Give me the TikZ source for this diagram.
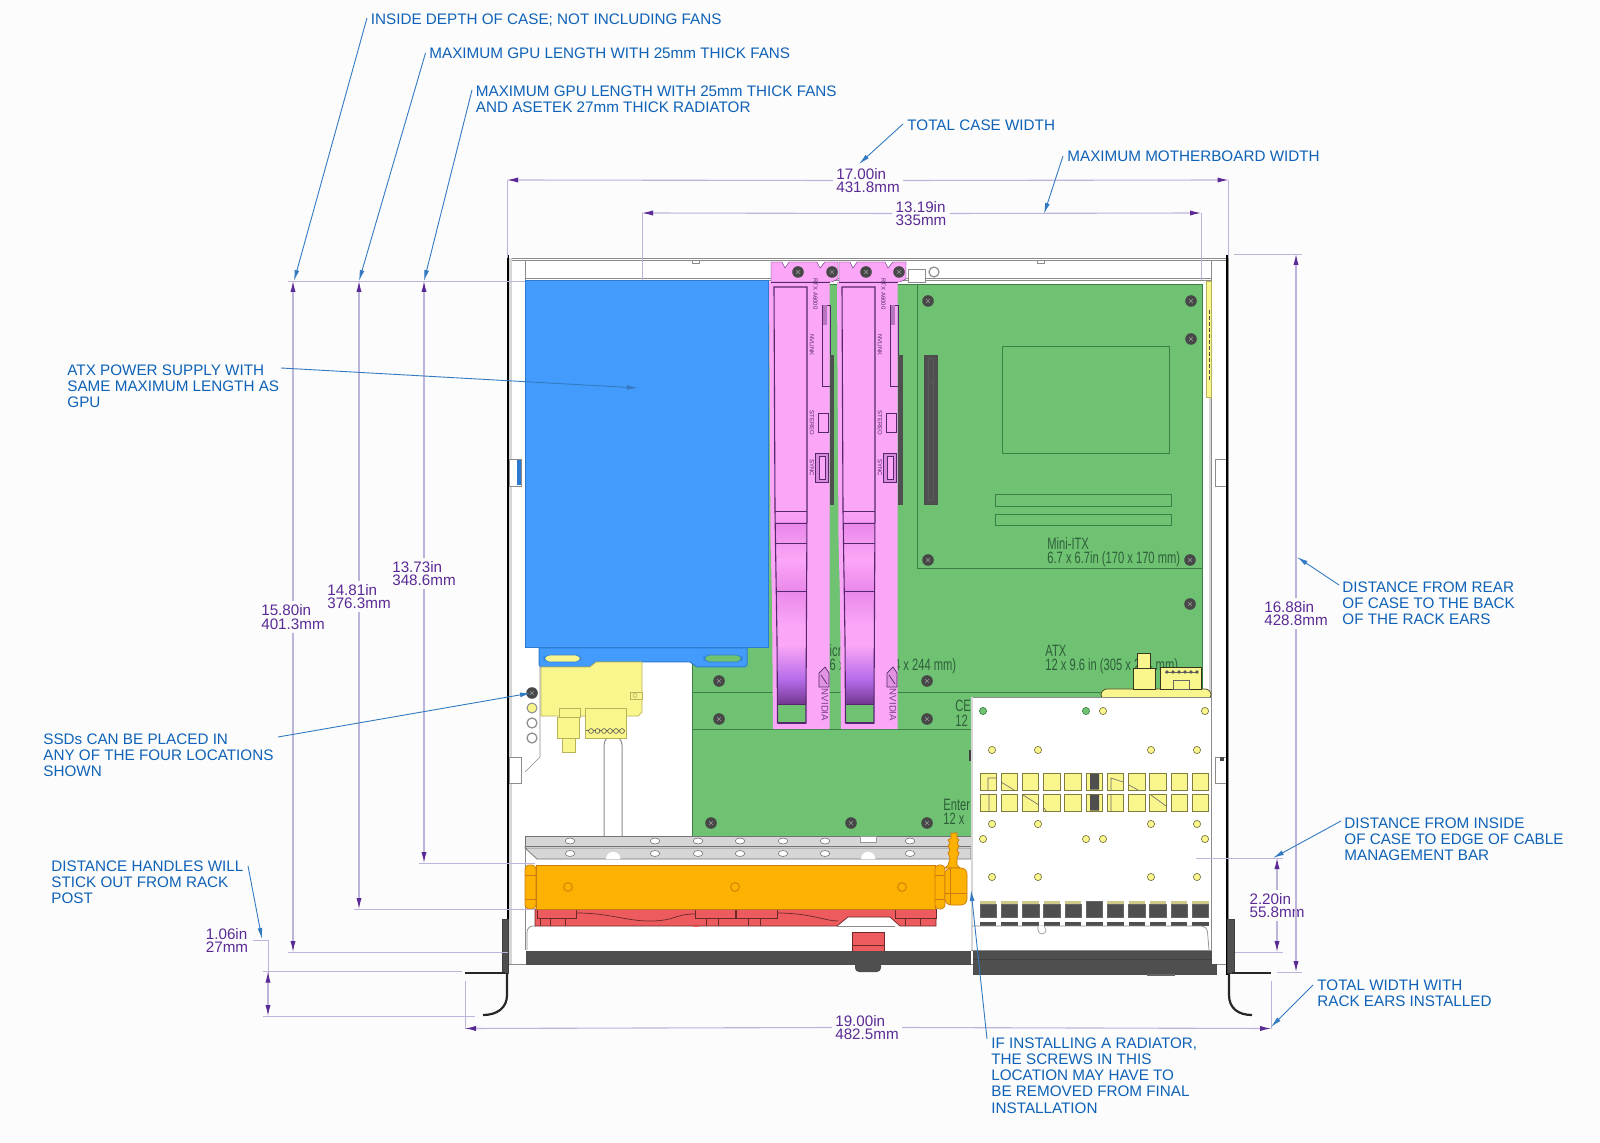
\documentclass[tikz,border=0pt]{standalone}
\usepackage{fontspec}
\setmainfont{Liberation Sans}
\newfontfamily\isofont[FakeStretch=0.68]{Liberation Sans}
\usetikzlibrary{arrows.meta,shadings}
\definecolor{bgc}{HTML}{FBFCFB}
\definecolor{noteblue}{HTML}{0F62B8}
\definecolor{dimpurple}{HTML}{5B2A96}
\definecolor{dimline}{HTML}{BDB4DC}
\definecolor{psu}{HTML}{439CFC}
\definecolor{psud}{HTML}{2C7BD0}
\definecolor{mobo}{HTML}{6EC272}
\definecolor{moboline}{HTML}{3C7F48}
\definecolor{motext}{HTML}{2F5F3A}
\definecolor{gpu}{HTML}{FBA6F7}
\definecolor{gpud}{HTML}{55286E}
\definecolor{gpum}{HTML}{EA88EA}
\definecolor{fanv}{HTML}{B46AE8}
\definecolor{fanp}{HTML}{74388F}
\definecolor{ssd}{HTML}{FAF68E}
\definecolor{ssdl}{HTML}{B9B25A}
\definecolor{rad}{HTML}{FDB100}
\definecolor{radd}{HTML}{C97A10}
\definecolor{fanred}{HTML}{EE5B5E}
\definecolor{darkm}{HTML}{4F4F4F}
\definecolor{railg}{HTML}{D6D6D6}
\definecolor{wallg}{HTML}{8C8C8C}
\tikzset{
  x=0.5pt,y=-0.5pt,
  note/.style={font=\fontsize{7.62}{8.15}\selectfont,text=noteblue,align=left,anchor=north west,inner sep=0pt,yshift=-1pt},
  dimtext/.style={font=\fontsize{7.6}{6.7}\selectfont,text=dimpurple,align=left,inner sep=1.5pt},
  mbtext/.style={font=\isofont\fontsize{8.2}{7.1}\selectfont,text=motext,align=left,anchor=north west,inner sep=0pt},
  gputext/.style={font=\fontsize{3}{3}\selectfont,text=gpud,inner sep=0pt,rotate=-90},
  nvtext/.style={font=\fontsize{4.8}{4.8}\selectfont,text=gpud!80!gpu,inner sep=0pt,rotate=-90},
  leader/.style={draw=noteblue!85!white,line width=0.45pt,-{Latex[length=5.5pt,width=2.4pt]}},
  extline/.style={draw=dimline,line width=0.45pt},
  dimarrow/.style={draw=dimline,line width=0.55pt,-{Latex[length=5.5pt,width=2.6pt,color=dimpurple]}},
  wall/.style={draw=wallg,line width=0.35pt,fill=white},
  mbline/.style={draw=moboline,line width=0.4pt},
  hole/.style={circle,draw=ssdl!60!black,line width=0.3pt,fill=ssd,minimum size=3.6pt,inner sep=0pt},
  greenhole/.style={circle,draw=moboline,line width=0.3pt,fill=mobo,minimum size=3.6pt,inner sep=0pt},
  slotsq/.style={draw=ssdl!70!black,line width=0.4pt,fill=ssd},
  darksq/.style={draw=black!60,line width=0.3pt,fill=darkm},
}
\newcommand{\screwat}[2]{\fill[black!72] (#1,#2) circle (2.9pt); \draw[black!40,line width=0.25pt] (#1-2,#2-2)--(#1+2,#2+2) (#1-2,#2+2)--(#1+2,#2-2);}
\newcommand{\railhole}[2]{\draw[black!55,line width=0.3pt,fill=white] (#1,#2) ellipse (2.4pt and 1.5pt);}
\newcommand{\gpucard}[2]{%
 \begin{scope}[shift={(#1,0)}]
  \fill[gpu,draw=gpud,line width=0.2pt] (771,262)--(782,262)--(785,268)--(789,262)--(817,262)--(820,268)--(825,262)--(838,262)--(838,279)--(832,282)--(771,282)--cycle;
  \fill[gpu] (769,282)--(829.5,282)--(829.5,729)--(773,729)--(772,600)--(770.5,540)--cycle;
  \begin{scope}
   \clip (775,511)--(807,511)--(806,704)--(778,704)--cycle;
   \shade[top color=gpu!85!gpum,bottom color=gpu!70!gpum] (770,511) rectangle (810,523);
   \shade[top color=gpum,bottom color=gpu] (770,523) rectangle (810,560);
   \shade[top color=gpu,bottom color=gpum] (770,560) rectangle (810,591);
   \shade[top color=gpum,bottom color=gpu] (770,591) rectangle (810,625);
   \shade[top color=gpu,bottom color=gpu] (770,625) rectangle (810,645);
   \shade[top color=gpu,bottom color=fanv] (770,645) rectangle (810,680);
   \shade[top color=fanv,bottom color=fanp] (770,680) rectangle (810,704);
  \end{scope}
  \fill[mobo] (778,704) rectangle (806,723);
  \draw[gpud,line width=0.55pt] (774,287)--(807,287)--(807,511)--(806,704)--(806,723)--(777.5,723)--(777,640)--(775,511)--cycle;
  \draw[gpud,line width=0.4pt] (775,511)--(807,511) (775,523)--(807,523) (776,543)--(807,543) (776,591)--(807,591) (778,704)--(806,704);
  \draw[gpud,line width=0.8pt] (777.5,723)--(806,723);
  \draw[gpud,line width=0.35pt] (771,282)--(830,282);
  \draw[gpud,line width=0.3pt] (818,413) rectangle (828,432);
  \draw[gpud,line width=0.3pt,fill=gpu!75!fanp] (815,453) rectangle (828,482);
  \draw[gpud,line width=0.3pt,fill=gpu] (819,456) rectangle (825,479);
  \draw[gpud,line width=0.3pt] (822,305) rectangle (830,386);
  \fill[gpu!60!gpud] (823,305) rectangle (827,325);
  \node[gputext] (rtx#2) at (815.5,294) {RTX A6000};
  \node[gputext] (nvl#2) at (812,345) {NVLINK};
  \node[gputext] (ste#2) at (812,423) {STEREO};
  \node[gputext] (syn#2) at (812,468) {SYNC};
  \draw[gpud,line width=0.35pt,fill=gpu!85!gpud] (819,687)--(819,673)--(825,667)--(829,673)--(829,687)--cycle (821,675)--(827,684);
  \node[nvtext] (nvi#2) at (825,705) {NVIDIA};
 \end{scope}}
\begin{document}
\begin{tikzpicture}
\useasboundingbox (0,0) rectangle (1600,1143);
\fill[bgc] (0,0) rectangle (1600,1143);
% ---- case walls
\path[wall] (508,258) rectangle (1228,964);
\draw[wallg,line width=0.35pt] (508,260)--(1228,260);
\fill[railg] (508,258) rectangle (512,964);
\draw[wallg,line width=0.4pt] (525,260)--(525,950);
\draw[wallg,line width=0.4pt] (1211,260)--(1211,950);
\fill[railg] (1209,280) rectangle (1211,950);
\draw[wallg,line width=0.5pt] (525,279)--(1211,279) (525,281)--(1211,281);
\fill[white,draw=wallg,line width=0.25pt] (692,260) rectangle (699,263) (1037,260) rectangle (1044,263);
% ---- motherboard
\fill[mobo] (692,284) rectangle (1202,836);
\draw[mbline] (692,284)--(1202,284)--(1202,836);
\draw[mbline] (692,284)--(692,836);
\draw[mbline] (917,284)--(917,568)--(1202,568);
\draw[mbline] (692,692)--(1202,692) (692,729)--(1202,729);
\draw[mbline,line width=0.5pt] (1002,347) rectangle (1169,454);
\draw[mbline,line width=0.5pt] (995,495) rectangle (1171,507) (995,515) rectangle (1171,526);
\fill[darkm,draw=black!70,line width=0.3pt] (924,355) rectangle (937,504);
\draw[black!65,line width=0.25pt] (928,358) rectangle (933,380) (928,382) rectangle (933,500);
\node[mbtext] (itxtext) at (1047,537.5) {Mini-ITX\\6.7 x 6.7in (170 x 170 mm)};
\node[mbtext] (atxtext) at (1045,644.5) {ATX\\12 x 9.6 in (305 x 244 mm)};
\node[mbtext] (microtext) at (820,644.5) {MicroATX\\9.6 x 9.6 in (244 x 244 mm)};
\node[mbtext] (cebtext) at (955,700) {CEB\\12};
\node[mbtext] (eatxtext) at (943,799) {Enter\\12 x};
% screws
\foreach \p/\q in {928/301,1191/301,1191/339,928/560,1190/560,1190/604,719/681,719/719,927/681,927/719,711/823,851/823,927/823}{\screwat{\p}{\q}}
\fill[black!75] (969,750) rectangle (973,761);
% right yellow strip
\fill[ssd,draw=ssdl,line width=0.3pt] (1206,281) rectangle (1211,397);
\draw[black!70,line width=0.4pt,dash pattern=on 2pt off 1pt] (1209,310)--(1209,380);
% ---- small parts on top rail
\draw[wallg,line width=0.3pt,fill=white] (908,269) rectangle (925,282);
\draw[wallg,line width=0.6pt,fill=white] (934,272) circle (2.5pt);
% ---- white left bay
\fill[white] (525.3,648) rectangle (692,836);
\draw[wallg,line width=0.3pt] (540,648)--(540,757)--(525,772);
\fill[white,draw=wallg,line width=0.5pt] (604,840) -- (622,840) -- (622,745) arc (0:180:4.5pt) --cycle;
% ---- PSU
\fill[psu,draw=psud,line width=0.5pt] (525,281) rectangle (768,648);
\fill[psu,draw=psud,line width=0.5pt] (539,648)--(539,665)--(541,667)--(590,667)--(596,662)--(690,662)--(697,667)--(745,667)--(747,665)--(747,648)--cycle;
\fill[ssd,draw=psud,line width=0.3pt,rounded corners=3pt] (544,655) rectangle (581,662);
\fill[mobo,draw=psud,line width=0.3pt,rounded corners=3pt] (704,655) rectangle (742,662);
% ---- SSD
\fill[ssd,draw=ssdl,line width=0.35pt] (541,667)--(590,667)--(596,662)--(642,662)--(642,712)--(638,716)--(541,716)--cycle;
\draw[ssdl,line width=0.3pt,fill=ssd] (630,692) rectangle (642,699);
\draw[ssdl,line width=0.3pt] (635,695.5) circle (1pt);
\fill[ssd,draw=ssdl,line width=0.35pt] (559,708) rectangle (580,717) (557,717) rectangle (579,738);
\fill[ssd,draw=ssdl,line width=0.35pt] (562,738) rectangle (575,752);
\fill[ssd,draw=ssdl,line width=0.35pt] (585,708) rectangle (626,738);
\draw[black!60,line width=0.3pt] (586,730)--(625,730);
\foreach \q in {591,597.5,604,610,616,622}{\draw[black!70,line width=0.3pt,fill=ssd] (\q,731) circle (1.2pt);}
\screwat{532}{693}
\fill[ssd,draw=wallg,line width=0.5pt] (532,708) circle (2.5pt);
\fill[white,draw=wallg,line width=0.6pt] (532,723) circle (2.5pt) (532,738) circle (2.5pt);
% clips
\draw[wallg,line width=0.3pt,fill=white] (509,757) rectangle (521,783) (509,459) rectangle (521,486) (1215,459) rectangle (1227,486) (1215,757) rectangle (1227,783);
\fill[psud] (517,460) rectangle (520.5,485);
\fill[black!70] (1220,757) rectangle (1224,761);
% ---- rail
\fill[railg,draw=black!55,line width=0.35pt] (525,836) rectangle (971,846);
\fill[railg,draw=black!55,line width=0.35pt] (525,848)--(971,848)--(971,859)--(537,859)--cycle;
\foreach \p in {570,655,698,740,783,825,910}{\railhole{\p}{841}\railhole{\p}{853.5}}
\fill[white,draw=black!40,line width=0.25pt] (860,836) rectangle (876,842);
\fill[white] (606,859) arc (180:0:3.6pt) -- cycle (861,859) arc (180:0:3.6pt) -- cycle;
% ---- GPUs
\gpucard{0}{a}
\gpucard{68}{b}
\fill[darkm] (830,355) rectangle (834,505);
\fill[darkm] (898,355) rectangle (902.5,505);
\foreach \p in {798,832,866,899}{\screwat{\p}{272}}
% ---- radiator
\fill[fanred,draw=black!55!fanred,line width=0.35pt] (535,909)--(936,909)--(936,926)--(900,926)--(890,917)--(848,917)--(837,926)--(535,926)--cycle;
\draw[black!55!fanred,line width=0.35pt,fill=fanred] (537,909) rectangle (576,918) (695,909) rectangle (735,918) (736,909) rectangle (777,918) (895,909) rectangle (936,918);
\draw[black!55!fanred,line width=0.3pt] (540,918)--(540,926) (550,918)--(550,926) (565,918)--(565,926) (706,918)--(706,926) (718,918)--(718,926) (748,918)--(748,926) (760,918)--(760,926) (905,918)--(905,926) (920,918)--(920,926);
\draw[black!55!fanred,line width=0.35pt] (576,913) .. controls (610,913) and (625,921) .. (650,921) .. controls (675,921) and (675,914) .. (695,914);
\draw[black!55!fanred,line width=0.35pt] (777,913) .. controls (810,913) and (825,921) .. (838,921);
\fill[fanred] (693,926) .. controls (694,931) and (695,933) .. (696,933) .. controls (697,933) and (698,931) .. (699,926) -- cycle;
\fill[rad,draw=radd,line width=0.35pt,rounded corners=2pt] (525,865) rectangle (536,909);
\draw[radd,line width=0.3pt] (525,875)--(536,875) (525,899)--(536,899);
\fill[rad,draw=radd,line width=0.5pt] (536,865) rectangle (935,909);
\fill[rad,draw=radd,line width=0.35pt,rounded corners=2pt] (935,865) rectangle (945,909);
\draw[radd,line width=0.3pt] (935,875)--(945,875) (935,899)--(945,899);
\fill[rad,draw=radd,line width=0.35pt] (951,833)--(957,833)--(957,838)--(959,840)--(957,843)--(959,846)--(957,850)--(959,853)--(957,858)--(957,865)--(960,868)--(945,868)--(948,865)--(950,858)--(948,853)--(950,850)--(948,846)--(950,843)--(948,840)--(951,838)--cycle;
\fill[rad,draw=radd,line width=0.35pt,rounded corners=3pt] (945,868) rectangle (967,905);
\draw[radd,line width=0.3pt] (950,868)--(950,905) (945,893)--(967,893);
\foreach \p in {568,735,902}{\draw[radd,line width=0.4pt] (\p,887) circle (2.2pt);}
% ---- yellow parts behind cable bar
\fill[ssd,draw=black!60!ssdl,line width=0.35pt,rounded corners=3pt] (1101,700)--(1101,689)--(1211,689)--(1211,700)--cycle;
\fill[ssd,draw=black!70!ssdl,line width=0.35pt] (1137,653) rectangle (1150,668);
\fill[ssd,draw=black!70!ssdl,line width=0.35pt] (1133,668) rectangle (1155,689);
\fill[ssd,draw=black!70!ssdl,line width=0.35pt] (1160,667) rectangle (1201,689);
\draw[black!60,line width=0.3pt] (1165,672)--(1197,672) (1173,680) rectangle (1189,689);
\foreach \q in {1167,1173,1179,1185,1191,1197}{\fill[black!65] (\q,672) circle (0.9pt);}
% ---- cable management bar
\fill[white,draw=wallg,line width=0.35pt] (971,697) rectangle (1211,950);
\fill[railg] (971,697) rectangle (972.5,950);
\foreach \p in {983,1086}{\node[greenhole] (gh\p) at (\p,711) {};}
\foreach \p in {1103,1205}{\node[hole] (yh\p) at (\p,711) {};}
\foreach \p in {992,1038,1151,1197}{\node[hole] (ya\p) at (\p,750) {}; \node[hole] (yb\p) at (\p,824) {}; \node[hole] (yc\p) at (\p,877) {};}
\foreach \p in {983,1086,1103,1205}{\node[hole] (yd\p) at (\p,839) {};}
\foreach \i in {0,...,10}{
  \pgfmathsetmacro{\xa}{980+21.22*\i}
  \pgfmathsetmacro{\xb}{\xa+16.4}
  \draw[slotsq] (\xa,773) rectangle (\xb,790);
  \draw[slotsq] (\xa,794) rectangle (\xb,811);
  \ifnum\i=5\relax
    \draw[darksq] (\xa,901) rectangle (\xb,917);
  \else
    \fill[ssdl!70!white] (\xa,901) rectangle (\xb,904);
    \draw[darksq] (\xa,904) rectangle (\xb,917);
  \fi
  \fill[darkm] (\xa,922) rectangle (\xb,926);
}
\fill[darkm] (1090,773.5) rectangle (1099,789.5) (1090,794.5) rectangle (1099,810.5);
\draw[black!60,line width=0.3pt] (988,790)--(988,778)--(996,778) (989,794)--(989,811) (1001,782)--(1014,790) (1023,795)--(1039,805) (1044,808)--(1046,811) (1111,790)--(1111,778)--(1123,782) (1111,794)--(1111,811) (1129,785)--(1138,790) (1151,795)--(1166,806);
\fill[white] (972.5,926.3) rectangle (1210.5,950);
\draw[wallg,line width=0.35pt,rounded corners=3pt] (972,926)--(1207,926)--(1209,950);
\draw[wallg,line width=0.3pt,fill=white] (1038,926)--(1038,930) arc (180:360:2pt) -- (1044,926);
% left panel below
\fill[white] (525.5,926.5) rectangle (971,950.5);
\draw[wallg,line width=0.35pt,rounded corners=3pt] (527,950)--(527,926)--(535,926);
\draw[wallg,line width=0.35pt] (837,926)--(895,926);
\fill[fanred,draw=black!55!fanred,line width=0.3pt] (852,932) rectangle (884,951);
\draw[black!55!fanred,line width=0.3pt] (852,945)--(884,945);
% bottom dark bars
\fill[darkm,draw=black!70,line width=0.4pt] (526,951) rectangle (970,964);
\fill[darkm,rounded corners=2pt] (855,951) rectangle (881,972);
\fill[darkm,draw=black!70,line width=0.4pt] (973,951)--(1211,951)--(1211,964)--(1216,964)--(1216,974)--(973,974)--cycle;
\draw[black!75,line width=0.3pt] (973,959)--(1211,959);
\fill[black!60] (1147,974) rectangle (1175,976);
% black case edges
\draw[black,line width=1pt] (508,255)--(508,964);
\draw[black,line width=1pt] (1227,255)--(1227,975);
% rack ears
\fill[darkm,draw=black!75,line width=0.3pt] (502,919) rectangle (508,973);
\fill[darkm,draw=black!75,line width=0.3pt] (1227.5,919) rectangle (1234,973);
\draw[black!85,line width=1.1pt] (465,973)--(505,973);
\draw[black!85,line width=1.1pt] (1232,973)--(1271,973);
\draw[black!85,line width=1.1pt] (507,973)--(507,995) .. controls (507,1008) and (497,1015) .. (483,1015);
\draw[black!85,line width=1.1pt] (1229,973)--(1229,995) .. controls (1229,1008) and (1238,1015) .. (1252,1015);
% ---- dimension extension lines
\coordinate (ela) at (507,180); \coordinate (elb) at (507,258);
\coordinate (era) at (1228.5,180); \coordinate (erb) at (1228.5,258);
\draw[extline] (ela)--(elb) (era)--(erb);
\coordinate (m1a) at (642,213); \coordinate (m1b) at (642,280);
\coordinate (m2a) at (1201,213); \coordinate (m2b) at (1201,280);
\draw[extline] (m1a)--(m1b) (m2a)--(m2b);
\coordinate (t0) at (288,281); \coordinate (t1) at (525,281);
\draw[extline] (t0)--(t1);
\coordinate (b1) at (288,952); \coordinate (b1e) at (508,952);
\coordinate (b2) at (354,909); \coordinate (b2e) at (535,909);
\coordinate (b3) at (419,863); \coordinate (b3e) at (535,863);
\draw[extline] (b1)--(b1e) (b2)--(b2e) (b3)--(b3e);
\coordinate (rt) at (1302,254); \coordinate (rte) at (1234,254);
\coordinate (rb) at (1302,972); \coordinate (rbe) at (1277,972);
\draw[extline] (rt)--(rte) (rb)--(rbe);
\coordinate (ib) at (1283,858); \coordinate (ibe) at (1196,858);
\coordinate (ic) at (1283,952); \coordinate (ice) at (1235,952);
\draw[extline] (ib)--(ibe) (ic)--(ice);
\coordinate (wl) at (465,1028.5); \coordinate (wlt) at (465,981);
\coordinate (wr) at (1271,1028.5); \coordinate (wrt) at (1271,981);
\draw[extline] (wl)--(wlt) (wr)--(wrt);
\coordinate (h1) at (263,971.5); \coordinate (h1e) at (462,971.5);
\coordinate (h2) at (263,1016); \coordinate (h2e) at (475,1016);
\draw[extline] (h1)--(h1e) (h2)--(h2e);
% dimension texts
\node[dimtext,fill=bgc] (d17) at (868,180.5) {17.00in\\431.8mm};
\node[dimtext,fill=bgc] (d13) at (921,213.5) {13.19in\\335mm};
\node[dimtext,fill=bgc] (d158) at (293,617) {15.80in\\401.3mm};
\node[dimtext,fill=bgc] (d148) at (359,596.5) {14.81in\\376.3mm};
\node[dimtext,fill=bgc] (d137) at (424,573.5) {13.73in\\348.6mm};
\node[dimtext,fill=bgc] (d168) at (1296,613.5) {16.88in\\428.8mm};
\node[dimtext,fill=bgc] (d22) at (1277,905.5) {2.20in\\55.8mm};
\node[dimtext,fill=bgc] (d19) at (867,1027.5) {19.00in\\482.5mm};
\node[dimtext] (d106) at (227,940.5) {1.06in\\27mm};
\draw[dimarrow] (d17.west)--(ela);
\draw[dimarrow] (d17.east)--(era);
\draw[dimarrow] (d13.west)--(m1a);
\draw[dimarrow] (d13.east)--(m2a);
\draw[dimarrow] (d158.north)--(d158.north |- t0);
\draw[dimarrow] (d158.south)--(d158.south |- b1);
\draw[dimarrow] (d148.north)--(d148.north |- t0);
\draw[dimarrow] (d148.south)--(d148.south |- b2);
\draw[dimarrow] (d137.north)--(d137.north |- t0);
\draw[dimarrow] (d137.south)--(d137.south |- b3);
\draw[dimarrow] (d168.north)--(d168.north |- rt);
\draw[dimarrow] (d168.south)--(d168.south |- rb);
\draw[dimarrow] (d22.north)--(d22.north |- ib);
\draw[dimarrow] (d22.south)--(d22.south |- ic);
\draw[dimarrow] (d19.west)--(wl);
\draw[dimarrow] (d19.east)--(wr);
\coordinate (hk) at (268,940);
\coordinate (hs) at (253,940);
\coordinate (hm) at (268,990);
\coordinate (hup) at (268,971.5);
\coordinate (hdn) at (268,1016);
\draw[extline] (hs)--(hk)--(hm);
\draw[dimarrow] (hm)--(hup);
\draw[dimarrow] (hm)--(hdn);
% ---- notes
\node[note] (n1) at (370.5,11) {INSIDE DEPTH OF CASE; NOT INCLUDING FANS};
\node[note] (n2) at (429,45.5) {MAXIMUM GPU LENGTH WITH 25mm THICK FANS};
\node[note] (n3) at (475.5,83) {MAXIMUM GPU LENGTH WITH 25mm THICK FANS\\AND ASETEK 27mm THICK RADIATOR};
\node[note] (n4) at (907,117) {TOTAL CASE WIDTH};
\node[note] (n5) at (1067,148.5) {MAXIMUM MOTHERBOARD WIDTH};
\node[note] (n6) at (67,362) {ATX POWER SUPPLY WITH\\SAME MAXIMUM LENGTH AS\\GPU};
\node[note] (n7) at (43,731) {SSDs CAN BE PLACED IN\\ANY OF THE FOUR LOCATIONS\\SHOWN};
\node[note] (n8) at (51,858) {DISTANCE HANDLES WILL\\STICK OUT FROM RACK\\POST};
\node[note] (n9) at (1342,579) {DISTANCE FROM REAR\\OF CASE TO THE BACK\\OF THE RACK EARS};
\node[note] (n10) at (1344,815) {DISTANCE FROM INSIDE\\OF CASE TO EDGE OF CABLE\\MANAGEMENT BAR};
\node[note] (n11) at (1317,977) {TOTAL WIDTH WITH\\RACK EARS INSTALLED};
\node[note] (n12) at (991,1035) {IF INSTALLING A RADIATOR,\\THE SCREWS IN THIS\\LOCATION MAY HAVE TO\\BE REMOVED FROM FINAL\\INSTALLATION};
% ---- leaders
\coordinate (s1) at (367,18); \coordinate (a1) at (294,281); \draw[leader] (s1)--(a1);
\coordinate (s2) at (425.5,53); \coordinate (a2) at (359,281); \draw[leader] (s2)--(a2);
\coordinate (s3) at (472,90); \coordinate (a3) at (424,281); \draw[leader] (s3)--(a3);
\coordinate (s4) at (903,124); \coordinate (a4) at (859,164); \draw[leader] (s4)--(a4);
\coordinate (s5) at (1063,156); \coordinate (a5) at (1044,214); \draw[leader] (s5)--(a5);
\coordinate (s6) at (281,368); \coordinate (a6) at (638,388); \draw[leader] (s6)--(a6);
\coordinate (s7) at (278,737); \coordinate (a7) at (531,693); \draw[leader] (s7)--(a7);
\coordinate (s8) at (248,866); \coordinate (a8) at (262,939); \draw[leader] (s8)--(a8);
\coordinate (s9) at (1339,585); \coordinate (a9) at (1297,557); \draw[leader] (s9)--(a9);
\coordinate (s10) at (1341,821); \coordinate (a10) at (1273,858); \draw[leader] (s10)--(a10);
\coordinate (s11) at (1313,985); \coordinate (a11) at (1271,1027); \draw[leader] (s11)--(a11);
\coordinate (s12) at (987,1039); \coordinate (a12) at (971,890); \draw[leader] (s12)--(a12);
\end{tikzpicture}
\end{document}
